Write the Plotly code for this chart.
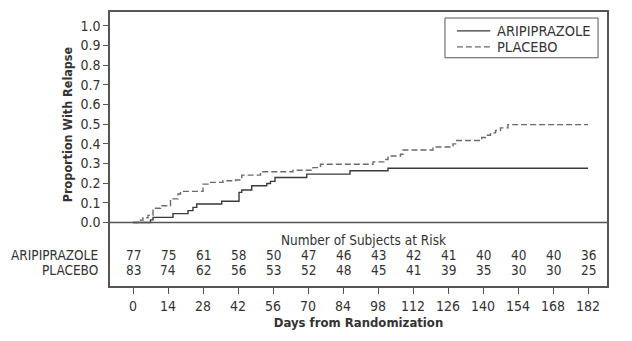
import plotly.graph_objects as go

# Kaplan-Meier style cumulative relapse curves (step functions)
days_ari = [0, 7, 8, 16, 22, 24, 25.5, 35.5, 42.4, 43.5, 47.5, 53.5, 55, 56.8,
            69.5, 86.8, 102, 182]
prop_ari = [0, 0.013, 0.026, 0.045, 0.06, 0.077, 0.094, 0.108, 0.153, 0.165,
            0.187, 0.198, 0.209, 0.229, 0.246, 0.263, 0.276, 0.276]

days_pla = [0, 3, 4, 6, 8, 11, 15, 18, 19, 28, 30, 36, 41, 43.5, 51, 64, 72, 75,
            96, 100.8, 102, 107, 108, 120, 128, 129.5, 139.5, 141, 143, 145,
            147, 150, 182]
prop_pla = [0, 0.012, 0.024, 0.036, 0.072, 0.085, 0.12, 0.145, 0.158, 0.195,
            0.204, 0.212, 0.216, 0.241, 0.258, 0.266, 0.279, 0.296, 0.308, 0.32,
            0.338, 0.347, 0.369, 0.384, 0.40, 0.417, 0.432, 0.444, 0.456, 0.468,
            0.481, 0.498, 0.498]

# Number at risk table
risk_days = [0, 14, 28, 42, 56, 70, 84, 98, 112, 126, 140, 154, 168, 182]
risk_ari = [77, 75, 61, 58, 50, 47, 46, 43, 42, 41, 40, 40, 40, 36]
risk_pla = [83, 74, 62, 56, 53, 52, 48, 45, 41, 39, 35, 30, 30, 25]

y_ticks = [round(i * 0.1, 1) for i in range(11)]

FONT = "DejaVu Sans Condensed, Liberation Sans, Arial, sans-serif"
INK = "#333333"
AXIS = "#555555"

tick_font = dict(size=14, color=INK, family=FONT)
table_font = dict(size=13.5, color=INK, family=FONT)
legend_font = dict(size=14.5, color=INK, family=FONT)
title_font = dict(size=12.5, color=INK, family=FONT)

series = [
    dict(name="ARIPIPRAZOLE", x=days_ari, y=prop_ari,
         line=dict(shape="hv", color="#3a3a3a", width=1.4)),
    dict(name="PLACEBO", x=days_pla, y=prop_pla,
         line=dict(shape="hv", color="#6a6a6a", width=1.4, dash="6px,3px")),
]

fig = go.Figure()
for s in series:
    fig.add_trace(go.Scatter(x=s["x"], y=s["y"], mode="lines", name=s["name"],
                             line=s["line"], showlegend=False))

shapes = [
    # horizontal rule at zero separating curves from the at-risk table
    dict(type="line", xref="paper", yref="y", x0=0, x1=1, y0=0, y1=0,
         line=dict(color=AXIS, width=1.5), layer="above"),
    # compact legend frame
    dict(type="rect", xref="paper", yref="paper", x0=0.674, x1=0.982,
         y0=0.833, y1=0.978, line=dict(color=AXIS, width=1),
         fillcolor="white", layer="above"),
]
annotations = []
for s, ly in zip(series, (0.931, 0.873)):
    shapes.append(dict(type="line", xref="paper", yref="paper",
                       x0=0.698, x1=0.765, y0=ly, y1=ly, layer="above",
                       line=dict(color=s["line"]["color"], width=1.2,
                                 dash=s["line"].get("dash", "solid"))))
    annotations.append(dict(x=0.774, y=ly, xref="paper", yref="paper",
                            text=s["name"], showarrow=False, xanchor="left",
                            yanchor="middle", font=legend_font))

annotations.append(dict(x=92, y=-0.091, xref="x", yref="y",
                        text="Number of Subjects at Risk", showarrow=False,
                        font=table_font))
for label, row, yv in (("ARIPIPRAZOLE", risk_ari, -0.167),
                       ("PLACEBO", risk_pla, -0.242)):
    annotations.append(dict(x=-0.02, y=yv, xref="paper", yref="y", text=label,
                            showarrow=False, xanchor="right", font=table_font))
    for d, n in zip(risk_days, row):
        annotations.append(dict(x=d, y=yv, xref="x", yref="y", text=str(n),
                                showarrow=False, font=table_font))
annotations.append(dict(x=(67 - 110) / 497, y=0.5, xref="paper", yref="y",
                        xanchor="center", yanchor="middle",
                        text="<b>Proportion With Relapse</b>", textangle=-90,
                        showarrow=False, font=title_font))

fig.update_layout(
    width=632, height=341,
    margin=dict(l=110, r=25, t=10, b=55),
    paper_bgcolor="white", plot_bgcolor="white",
    font=dict(family=FONT, size=14, color=INK),
    showlegend=False,
    shapes=shapes,
    annotations=annotations,
    xaxis=dict(range=[-9.2, 189.6], tickvals=risk_days,
               ticks="outside", ticklen=6, tickcolor=AXIS,
               showline=True, linecolor=AXIS, linewidth=1.5, mirror=True,
               showgrid=False, zeroline=False, tickfont=tick_font,
               title=dict(text="<b>Days from Randomization</b>",
                          font=dict(size=13, color=INK, family=FONT),
                          standoff=5)),
    yaxis=dict(range=[-0.3232, 1.0707], tickvals=y_ticks,
               ticktext=[f"{v:.1f}" for v in y_ticks],
               ticks="outside", ticklen=5, tickcolor=AXIS,
               showline=True, linecolor=AXIS, linewidth=1.5, mirror=True,
               showgrid=False, zeroline=False, tickfont=tick_font),
)

fig.write_html("out.html")
